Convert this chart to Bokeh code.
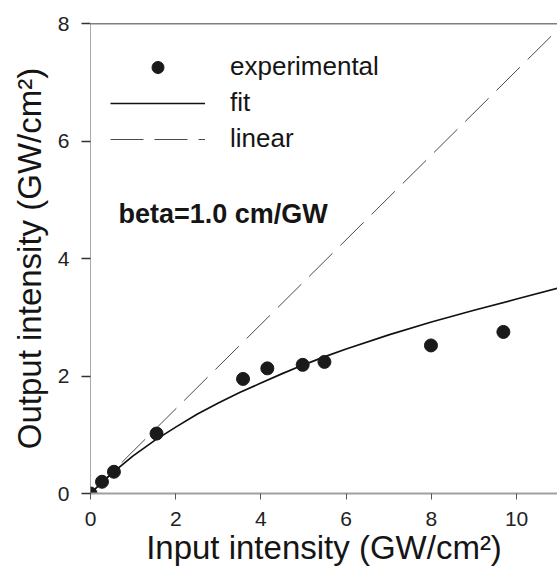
from bokeh.plotting import figure
from bokeh.models import (Range1d, FixedTicker, Label, Span, Legend, LegendItem)
from bokeh.embed import file_html
from bokeh.resources import INLINE

# ---- data ----
exp_x = [0.0, 0.27, 0.55, 1.55, 3.58, 4.15, 4.98, 5.49, 7.99, 9.69]
exp_y = [0.0, 0.20, 0.37, 1.02, 1.95, 2.13, 2.19, 2.24, 2.52, 2.75]

fit_x = [0, 0.25, 0.5, 0.75, 1, 1.5, 2, 2.5, 3, 3.5, 4, 4.5, 5, 5.5, 6, 7, 8, 9, 10, 11]
fit_y = [0, 0.175, 0.34, 0.49, 0.64, 0.90, 1.13, 1.35, 1.54, 1.72, 1.88, 2.04, 2.19,
         2.33, 2.46, 2.70, 2.92, 3.12, 3.31, 3.50]

lin_x = [0, 11]
lin_y = [0, 7.92]

x_ticks = [0, 2, 4, 6, 8, 10]
y_ticks = [0, 2, 4, 6, 8]

legend_labels = ["experimental", "fit", "linear"]
annotation_text = "beta=1.0 cm/GW"
x_label = "Input intensity (GW/cm\u00b2)"
y_label = "Output intensity (GW/cm\u00b2)"

FONT = "Liberation Sans"
TXT = "#151515"

W, H = 557, 573
p = figure(width=W, height=H, output_backend="svg", toolbar_location=None,
           x_range=Range1d(0, 10.96), y_range=Range1d(0, 8),
           min_border_left=90, min_border_right=0, min_border_top=23,
           min_border_bottom=80)
p.outline_line_color = None
p.grid.visible = False
p.background_fill_color = "white"
p.border_fill_color = "white"

# x axis
xa = p.xaxis[0]
xa.ticker = FixedTicker(ticks=x_ticks)
xa.minor_tick_line_color = None
xa.axis_line_color = "#a0a0a0"
xa.axis_line_width = 2
xa.major_tick_line_color = "#555555"
xa.major_tick_in = 0
xa.major_tick_out = 6
xa.major_label_standoff = 12
xa.major_label_text_font = FONT
xa.major_label_text_font_size = "21px"
xa.major_label_text_color = "#222222"
xa.axis_label = x_label
xa.axis_label_standoff = 0
xa.axis_label_text_font = FONT
xa.axis_label_text_font_size = "33px"
xa.axis_label_text_font_style = "normal"
xa.axis_label_text_color = TXT

# y axis
ya = p.yaxis[0]
ya.ticker = FixedTicker(ticks=y_ticks)
ya.minor_tick_line_color = None
ya.axis_line_color = "#555555"
ya.axis_line_width = 1
ya.axis_line_dash = "1 1"
ya.major_tick_line_color = "#333333"
ya.major_tick_line_width = 1.5
ya.major_tick_in = 0
ya.major_tick_out = 9
ya.major_label_standoff = 12
ya.major_label_text_font = FONT
ya.major_label_text_font_size = "21px"
ya.major_label_text_color = "#222222"
ya.axis_label = y_label
ya.axis_label_standoff = 7
ya.axis_label_text_font = FONT
ya.axis_label_text_font_size = "33px"
ya.axis_label_text_font_style = "normal"
ya.axis_label_text_color = TXT

# top frame line
p.add_layout(Span(location=8, dimension="width", line_color="black", line_width=1.5))

# glyphs
r_lin = p.line(lin_x, lin_y, line_color="#4a4a4a", line_width=1, line_dash="33 11")
r_fit = p.line(fit_x, fit_y, line_color="#111111", line_width=1.7)
r_exp = p.scatter(exp_x, exp_y, size=13, marker="circle", fill_color="#1a1a1a",
                  line_color="#1a1a1a")

legend = Legend(items=[LegendItem(label=legend_labels[0], renderers=[r_exp]),
                       LegendItem(label=legend_labels[1], renderers=[r_fit]),
                       LegendItem(label=legend_labels[2], renderers=[r_lin])],
                location=(20, 339))
legend.glyph_width = 95
legend.glyph_height = 30
legend.label_height = 30
legend.label_standoff = 25
legend.spacing = 5
legend.padding = 0
legend.margin = 0
legend.border_line_color = None
legend.background_fill_alpha = 0
legend.label_text_font = FONT
legend.label_text_font_size = "26px"
legend.label_text_color = TXT
p.add_layout(legend)

# annotation text (frame-relative screen units)
p.add_layout(Label(x=28, y=280, x_units="screen", y_units="screen",
                   text=annotation_text, text_font=FONT, text_font_size="27px",
                   text_font_style="bold", text_color=TXT,
                   text_baseline="alphabetic", text_align="left"))

open("out.html", "w").write(file_html(p, INLINE))
